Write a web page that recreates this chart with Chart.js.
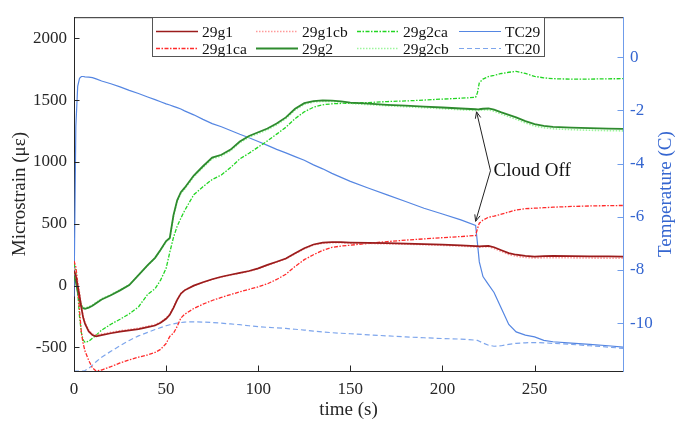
<!DOCTYPE html>
<html><head><meta charset="utf-8">
<script src="https://cdn.jsdelivr.net/npm/chart.js@4.4.1/dist/chart.umd.min.js"></script>
<style>html,body{margin:0;padding:0;background:#fff;}#wrap{width:678px;height:423px;}</style>
</head><body><div id="wrap"><canvas id="c" width="678" height="423"></canvas></div>
<script>
const time = [0,1,2,3,4,5,6,8,10,12,15,20,25,30,35,40,44,47,50,52,54,56,58,60,65,70,75,80,85,90,95,100,105,110,115,120,125,130,135,140,145,150,160,170,180,190,200,210,218,219,220,222,225,228,232,236,240,245,250,255,260,270,280,290,298];

const s29g1 = [120,80,0,-80,-180,-260,-310,-370,-400,-410,-400,-385,-372,-362,-352,-335,-322,-300,-268,-235,-180,-115,-65,-38,0,28,52,72,88,103,118,140,168,193,220,262,302,333,347,352,351,348,345,343,340,336,332,326,320,319,318,320,322,310,286,263,250,240,235,238,240,239,237,236,235];
const s29g1cb = [140,100,20,-60,-165,-245,-300,-360,-392,-400,-392,-378,-365,-355,-345,-328,-315,-295,-262,-230,-175,-112,-62,-36,0,26,50,70,86,101,116,137,165,190,217,258,298,329,343,348,347,344,341,338,335,331,326,320,313,312,311,313,314,301,276,252,238,228,223,225,226,225,223,222,221];
const s29g1ca = [200,150,30,-200,-380,-470,-530,-605,-665,-690,-682,-655,-625,-600,-578,-560,-540,-515,-468,-410,-385,-330,-262,-232,-185,-150,-120,-95,-72,-50,-30,-10,15,50,92,155,210,250,285,310,320,327,342,356,368,378,388,397,405,460,505,530,553,562,578,595,612,622,626,630,634,640,644,647,648];
const s29g2 = [80,30,-50,-120,-165,-183,-188,-178,-162,-142,-112,-78,-38,5,85,165,225,290,360,385,570,690,755,790,890,965,1035,1058,1100,1165,1210,1240,1270,1310,1360,1430,1475,1492,1497,1496,1490,1480,1472,1462,1455,1447,1440,1432,1426,1425,1426,1430,1432,1422,1400,1380,1360,1330,1305,1292,1284,1278,1273,1270,1268];
const s29g2cb = [100,50,-30,-105,-155,-175,-180,-172,-156,-136,-106,-72,-34,8,86,163,222,285,354,378,560,680,745,780,880,955,1025,1048,1090,1155,1200,1230,1260,1300,1350,1420,1466,1484,1490,1489,1483,1473,1463,1454,1446,1438,1430,1422,1416,1415,1416,1420,1421,1410,1387,1366,1345,1315,1290,1277,1268,1261,1256,1253,1251];
const s29g2ca = [180,120,-50,-250,-380,-440,-458,-450,-425,-400,-360,-312,-272,-228,-172,-70,-25,45,140,270,390,480,545,605,735,800,858,895,955,1025,1070,1120,1170,1225,1280,1350,1405,1442,1462,1470,1473,1474,1480,1488,1493,1500,1508,1515,1522,1560,1640,1670,1690,1700,1715,1725,1732,1715,1692,1680,1673,1669,1670,1672,1673];
const tTC29 = [-9,-2.6,-1.1,-0.8,-0.73,-0.73,-0.74,-0.75,-0.77,-0.82,-0.9,-1.0,-1.12,-1.25,-1.37,-1.5,-1.6,-1.68,-1.76,-1.8,-1.85,-1.9,-1.95,-2.02,-2.17,-2.34,-2.5,-2.62,-2.76,-2.9,-3.03,-3.17,-3.32,-3.47,-3.6,-3.74,-3.88,-4.05,-4.2,-4.37,-4.52,-4.67,-4.93,-5.18,-5.43,-5.68,-5.9,-6.12,-6.33,-7.0,-7.7,-8.25,-8.55,-8.85,-9.45,-10.05,-10.33,-10.45,-10.52,-10.65,-10.7,-10.75,-10.8,-10.85,-10.9];
const tTC20 = [-11.8,-11.8,-11.8,-11.8,-11.8,-11.8,-11.78,-11.7,-11.58,-11.45,-11.28,-11.06,-10.85,-10.65,-10.48,-10.35,-10.24,-10.17,-10.1,-10.06,-10.03,-10.0,-9.98,-9.96,-9.95,-9.96,-9.98,-10.0,-10.03,-10.06,-10.1,-10.13,-10.16,-10.18,-10.2,-10.23,-10.26,-10.3,-10.33,-10.36,-10.38,-10.4,-10.44,-10.48,-10.52,-10.55,-10.58,-10.6,-10.64,-10.65,-10.68,-10.75,-10.83,-10.87,-10.85,-10.8,-10.76,-10.74,-10.73,-10.74,-10.76,-10.8,-10.85,-10.9,-10.95];

const xTicks = [0,50,100,150,200,250];
const strainTicks = [-500,0,500,1000,1500,2000];
const tempTicks = [-10,-8,-6,-4,-2,0];
const xRange = [0,298];
const strainRange = [-690,2170];
const tempRange = [-11.8,1.5];
const cloudOffText = 'Cloud Off';
const cloudOffLabel = [227.7, 929];
const cloudOffTips = [[218.5,1405],[218,520]];

const FONT = "'Liberation Serif','Times New Roman',serif";
const AXIS = '#262626';
const BLUE_TXT = '#3566d0';
const BLUE_LINE = '#6f9cea';
const plain = v => String(v);

const pts = arr => time.map((t,i)=>({x:t,y:arr[i]}));
const datasets = [
  {label:'29g1', data:pts(s29g1), borderColor:'#9b1c1c', borderWidth:1.7, borderDash:[], yAxisID:'y'},
  {label:'29g1cb', data:pts(s29g1cb), borderColor:'#ff9a9a', borderWidth:1.6, borderDash:[1.5,1.5], yAxisID:'y'},
  {label:'29g1ca', data:pts(s29g1ca), borderColor:'#ff2a2a', borderWidth:1.3, borderDash:[4,1.5,1.5,1.5], yAxisID:'y'},
  {label:'29g2', data:pts(s29g2), borderColor:'#2e8b2e', borderWidth:1.8, borderDash:[], yAxisID:'y'},
  {label:'29g2cb', data:pts(s29g2cb), borderColor:'#9cf59c', borderWidth:1.6, borderDash:[1.5,1.5], yAxisID:'y'},
  {label:'29g2ca', data:pts(s29g2ca), borderColor:'#22d522', borderWidth:1.3, borderDash:[4,1.5,1.5,1.5], yAxisID:'y'},
  {label:'TC29', data:pts(tTC29), borderColor:'#5586e2', borderWidth:1.2, borderDash:[], yAxisID:'y2'},
  {label:'TC20', data:pts(tTC20), borderColor:'#7da5ec', borderWidth:1.2, borderDash:[5,3], yAxisID:'y2'}
];
const legendColumns = [['29g1','29g1ca'],['29g1cb','29g2'],['29g2ca','29g2cb'],['TC29','TC20']];

const overlay = {
  id:'overlay',
  afterDraw(chart){
    const ctx = chart.ctx, a = chart.chartArea;
    const xs = chart.scales.x, yl = chart.scales.y, yr = chart.scales.y2;
    ctx.save();
    const TL = 5.5;
    ctx.strokeStyle = AXIS; ctx.lineWidth = 1;
    ctx.beginPath(); ctx.moveTo(a.left, a.top+0.5); ctx.lineTo(a.right, a.top+0.5); ctx.stroke();
    ctx.beginPath();
    xs.ticks.forEach(t=>{const p=Math.round(xs.getPixelForValue(t.value))+0.5;
      ctx.moveTo(p,a.bottom); ctx.lineTo(p,a.bottom-TL); ctx.moveTo(p,a.top); ctx.lineTo(p,a.top+TL);});
    yl.ticks.forEach(t=>{const p=Math.round(yl.getPixelForValue(t.value))+0.5;
      ctx.moveTo(a.left,p); ctx.lineTo(a.left+TL,p);});
    ctx.stroke();
    ctx.strokeStyle = BLUE_LINE;
    ctx.beginPath();
    yr.ticks.forEach(t=>{const p=Math.round(yr.getPixelForValue(t.value))+0.5;
      ctx.moveTo(a.right,p); ctx.lineTo(a.right-TL,p);});
    ctx.stroke();
    ctx.fillStyle = BLUE_TXT; ctx.font = "19px "+FONT;
    ctx.textAlign='center'; ctx.textBaseline='middle';
    ctx.translate(666,(a.top+a.bottom)/2); ctx.rotate(-Math.PI/2);
    ctx.fillText('Temperature (C)',0,0);
    ctx.setTransform(1,0,0,1,0,0);
    const lx = xs.getPixelForValue(cloudOffLabel[0]), ly = yl.getPixelForValue(cloudOffLabel[1]);
    ctx.fillStyle = '#111'; ctx.font = "19px "+FONT; ctx.textAlign='left'; ctx.textBaseline='middle';
    ctx.fillText(cloudOffText, lx, ly);
    ctx.strokeStyle = '#222'; ctx.lineWidth = 1;
    const sx = lx-3, sy = ly;
    cloudOffTips.forEach(([tt,vv])=>{
      const tx = xs.getPixelForValue(tt), ty = yl.getPixelForValue(vv);
      ctx.beginPath(); ctx.moveTo(sx,sy); ctx.lineTo(tx,ty); ctx.stroke();
      const ang = Math.atan2(ty-sy, tx-sx), L=7, w=0.4;
      ctx.beginPath();
      ctx.moveTo(tx-L*Math.cos(ang-w), ty-L*Math.sin(ang-w)); ctx.lineTo(tx,ty);
      ctx.lineTo(tx-L*Math.cos(ang+w), ty-L*Math.sin(ang+w)); ctx.stroke();
    });
    const bx=152, by=17, bw=392, bh=39;
    ctx.fillStyle='#fff'; ctx.fillRect(bx,by,bw,bh);
    ctx.strokeStyle='#555'; ctx.lineWidth=1; ctx.strokeRect(bx+0.5,by+0.5,bw,bh);
    const colX=[156,256,357,459], rowY=[31.5,48.5];
    ctx.font="15.5px "+FONT; ctx.textBaseline='middle'; ctx.textAlign='left';
    legendColumns.forEach((col,ci)=>col.forEach((lab,ri)=>{
      const ds = chart.data.datasets.find(d=>d.label===lab);
      const x0=colX[ci], y0=rowY[ri];
      ctx.strokeStyle=ds.borderColor; ctx.lineWidth=ds.borderWidth; ctx.setLineDash(ds.borderDash||[]);
      ctx.beginPath(); ctx.moveTo(x0,y0); ctx.lineTo(x0+42,y0); ctx.stroke();
      ctx.setLineDash([]);
      ctx.fillStyle='#111'; ctx.fillText(lab, x0+46, y0+1);
    }));
    ctx.restore();
  }
};

new Chart(document.getElementById('c'), {
  type:'line',
  data:{datasets},
  plugins:[overlay],
  options:{
    responsive:false, animation:false, devicePixelRatio:1,
    layout:{padding:{top:6,left:0,right:0,bottom:0}},
    plugins:{legend:{display:false}, tooltip:{enabled:false}},
    elements:{point:{radius:0}, line:{tension:0, fill:false}},
    scales:{
      x:{type:'linear', position:'bottom', min:xRange[0], max:xRange[1],
        afterBuildTicks:s=>{s.ticks=xTicks.map(v=>({value:v}));},
        afterFit:s=>{s.height=52;},
        grid:{display:false, drawTicks:false}, border:{display:true,color:AXIS,width:1},
        ticks:{color:AXIS, font:{family:FONT,size:17}, padding:8, maxRotation:0, autoSkip:false, callback:plain},
        title:{display:true, text:'time (s)', color:AXIS, font:{family:FONT,size:19}, padding:{top:0,bottom:2}}},
      y:{type:'linear', position:'left', min:strainRange[0], max:strainRange[1],
        afterBuildTicks:s=>{s.ticks=strainTicks.map(v=>({value:v}));},
        afterFit:s=>{s.width=74;},
        grid:{display:false, drawTicks:false}, border:{display:true,color:AXIS,width:1},
        ticks:{color:AXIS, font:{family:FONT,size:17}, padding:7, callback:plain},
        title:{display:true, text:'Microstrain (με)', color:AXIS, font:{family:FONT,size:19}, padding:{top:9,bottom:0}}},
      y2:{type:'linear', position:'right', min:tempRange[0], max:tempRange[1],
        afterBuildTicks:s=>{s.ticks=tempTicks.map(v=>({value:v}));},
        afterFit:s=>{s.width=55;},
        grid:{display:false, drawTicks:false}, border:{display:true,color:BLUE_LINE,width:1},
        ticks:{color:BLUE_TXT, font:{family:FONT,size:17}, padding:7, callback:plain},
        title:{display:false}}
    }
  }
});
</script></body></html>
